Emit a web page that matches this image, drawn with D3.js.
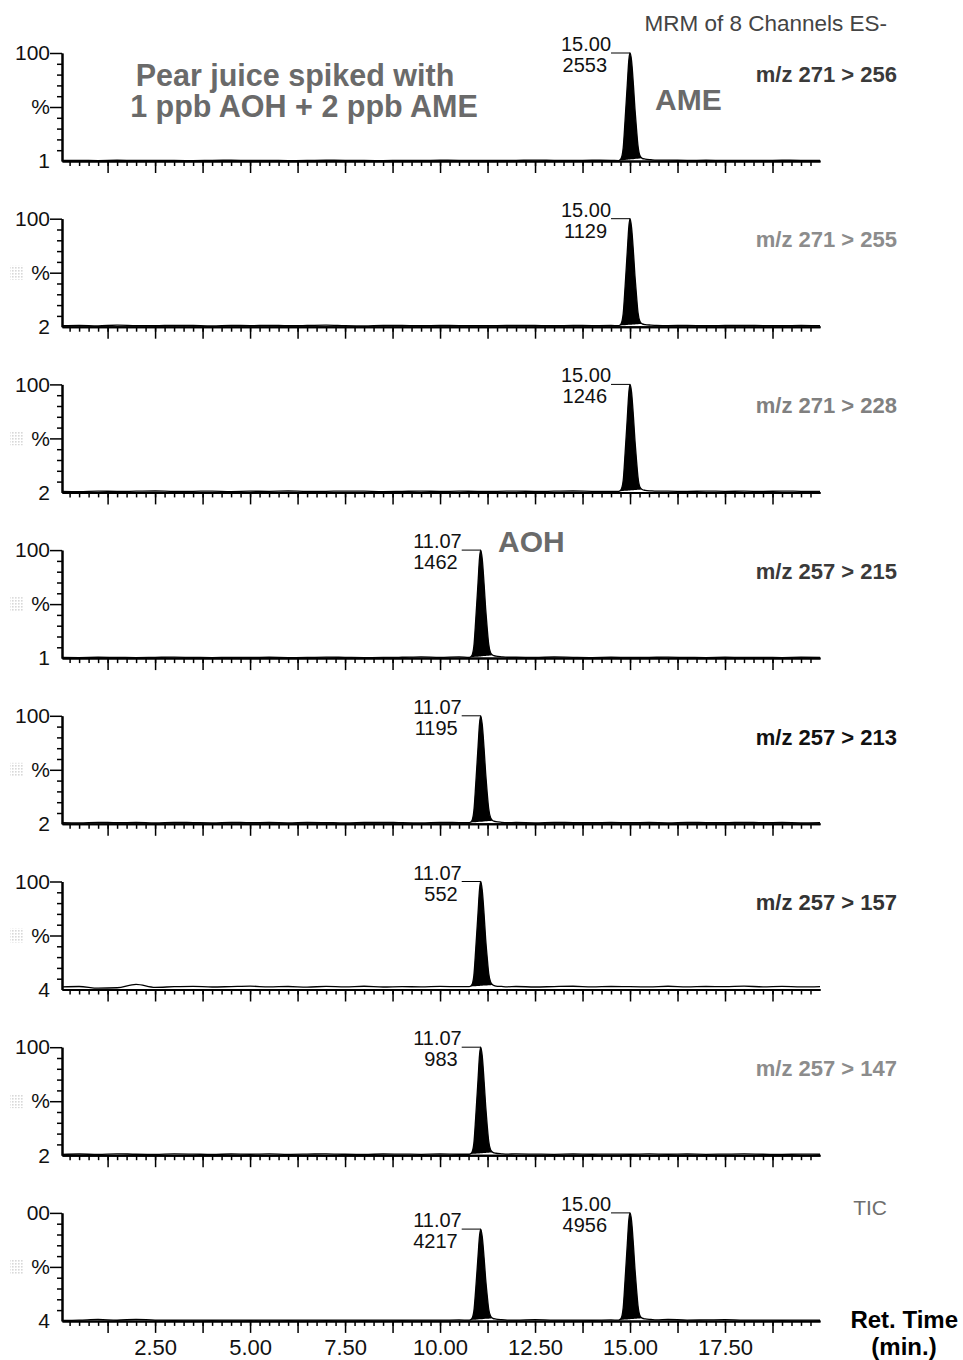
<!DOCTYPE html>
<html>
<head>
<meta charset="utf-8">
<script src="https://cdn.jsdelivr.net/npm/d3@7"></script>
<style>
  body { margin: 0; background: #fff; }
  svg { display: block; font-family: "Liberation Sans", Arial, sans-serif; }
</style>
</head>
<body>
<svg id="chart" width="963" height="1360"></svg>
<script>
// channel names, axis labels and peak annotations
var channelNames = ['m/z 271 > 256', 'm/z 271 > 255', 'm/z 271 > 228', 'm/z 257 > 215',
                    'm/z 257 > 213', 'm/z 257 > 157', 'm/z 257 > 147', 'TIC'];
var topLabels  = ['100', '100', '100', '100', '100', '100', '100', '00'];
var baseLabels = ['1', '2', '2', '1', '2', '4', '2', '4'];
var peakTimes  = [[15.00], [15.00], [15.00], [11.07], [11.07], [11.07], [11.07], [11.07, 15.00]];
var peakCounts = [[2553], [1129], [1246], [1462], [1195], [552], [983], [4217, 4956]];
var peakLimits = [[[14.70, 15.32]], [[14.70, 15.32]], [[14.70, 15.32]], [[10.77, 11.39]],
                  [[10.77, 11.39]], [[10.77, 11.39]], [[10.77, 11.39]], [[10.77, 11.39], [14.70, 15.32]]];
var timeLabels = [2.5, 5, 7.5, 10, 12.5, 15, 17.5];

// baseline noise (% of channel max), sampled every 0.5 min
var noiseTimes = [0.05, 0.5, 1, 1.5, 2, 2.5, 3, 3.5, 4, 4.5, 5, 5.5, 6, 6.5, 7, 7.5, 8, 8.5, 9, 9.5,
                  10, 10.5, 11, 11.5, 12, 12.5, 13, 13.5, 14, 14.5, 15, 15.5, 16, 16.5, 17, 17.5, 18, 18.5, 19, 19.5, 20];
var noise = [
  [0.5,0.6,0.4,0.7,0.5,0.6,0.5,0.4,0.6,0.7,0.5,0.6,0.4,0.5,0.7,0.6,0.5,0.4,0.6,0.5,0.7,0.6,0.5,0.5,0.6,0.8,0.6,0.5,0.7,0.6,0.5,1.1,0.8,0.6,0.7,0.5,0.6,0.5,0.7,0.6,0.5],
  [0.9,1.2,0.8,1.4,1.0,0.9,1.3,1.1,0.8,1.2,1.0,1.3,0.9,1.1,1.4,1.0,0.8,1.2,1.1,0.9,1.2,1.0,1.0,1.0,1.3,1.1,0.9,1.2,1.0,1.1,1.0,1.4,1.0,1.2,0.9,1.1,1.3,1.0,0.9,1.1,1.0],
  [1.0,0.8,1.2,0.9,1.1,1.3,0.9,1.0,1.2,0.8,1.1,1.0,1.3,0.9,1.0,1.2,1.1,0.8,1.0,1.2,0.9,1.1,1.0,1.0,1.2,0.9,1.1,1.3,1.0,0.9,1.0,1.3,1.1,0.9,1.2,1.0,1.1,0.9,1.2,1.0,0.9],
  [0.6,0.5,0.8,0.6,0.5,0.7,0.9,0.6,0.5,0.7,0.6,0.8,0.5,0.6,0.9,0.7,0.5,0.6,0.8,1.2,0.7,1.1,0.6,0.6,0.8,0.6,1.0,0.7,0.5,0.8,0.6,0.7,0.9,0.6,0.5,0.8,0.6,0.7,0.5,0.8,0.6],
  [1.1,0.9,1.4,1.0,1.2,0.8,1.3,1.1,0.9,1.4,1.0,1.2,0.9,1.3,1.1,0.8,1.2,1.4,1.0,0.9,1.3,1.1,1.0,1.0,1.2,0.9,1.4,1.1,1.0,1.3,1.0,1.2,0.9,1.3,1.1,1.0,1.4,1.0,1.2,0.9,1.1],
  [2.4,2.8,1.2,1.6,4.8,2.0,2.6,2.9,2.3,2.7,3.1,2.4,2.8,2.2,2.9,2.5,3.0,2.3,2.7,2.4,2.9,2.6,2.5,2.5,2.8,2.3,2.7,3.0,2.4,2.8,2.6,2.5,3.0,2.4,2.8,2.6,3.1,2.5,2.9,2.4,2.7],
  [0.8,1.1,0.7,1.3,0.9,0.8,1.2,1.0,0.7,1.1,0.9,1.2,0.8,1.0,1.3,0.9,0.7,1.1,1.0,0.8,1.1,0.9,0.9,0.9,1.2,1.0,0.8,1.1,0.9,1.0,0.9,1.2,0.9,1.1,0.8,1.0,1.2,0.9,0.8,1.0,0.9],
  [0.5,0.7,1.4,0.6,1.5,0.7,0.6,0.8,0.6,0.7,0.6,0.8,0.6,0.7,0.6,0.8,0.6,0.7,0.6,0.8,0.7,0.9,0.7,0.7,0.8,1.2,0.7,0.8,0.6,0.9,0.7,1.1,1.3,0.8,0.9,1.2,0.7,0.8,0.6,0.7,0.6]
];

// peak profiles [time, %]
var peaks = [
  [[[14.70,0.4],[14.76,2],[14.82,12],[14.87,38],[14.93,72],[14.97,94],[15.00,100],[15.04,93],[15.09,70],[15.13,48],[15.17,30],[15.21,14],[15.26,5],[15.32,2.5],[15.40,1.8],[15.55,1.2],[15.70,0.8]]],
  [[[14.70,1.0],[14.76,2.5],[14.82,12],[14.87,37],[14.93,71],[14.97,93],[15.00,100],[15.04,92],[15.09,69],[15.13,47],[15.17,29],[15.21,13],[15.26,5],[15.32,2.6],[15.40,1.9],[15.55,1.5],[15.70,1.2]]],
  [[[14.70,1.0],[14.76,2.4],[14.82,11],[14.87,36],[14.93,70],[14.97,93],[15.00,100],[15.04,93],[15.09,70],[15.13,48],[15.17,30],[15.21,14],[15.26,5],[15.32,2.7],[15.40,1.9],[15.55,1.4],[15.70,1.1]]],
  [[[10.77,0.6],[10.83,2],[10.89,11],[10.94,36],[11.00,70],[11.04,93],[11.07,100],[11.11,92],[11.16,68],[11.20,46],[11.24,28],[11.28,13],[11.33,5],[11.39,2.6],[11.47,1.8],[11.62,1.2],[11.77,0.8]]],
  [[[10.77,1.0],[10.83,2.4],[10.89,12],[10.94,37],[11.00,71],[11.04,93],[11.07,100],[11.11,92],[11.16,69],[11.20,47],[11.24,29],[11.28,14],[11.33,5.5],[11.39,2.8],[11.47,2.0],[11.62,1.4],[11.77,1.1]]],
  [[[10.77,2.6],[10.83,4],[10.89,13],[10.94,38],[11.00,71],[11.04,93],[11.07,100],[11.11,92],[11.16,69],[11.20,47],[11.24,30],[11.28,15],[11.33,7],[11.39,4.2],[11.47,3.2],[11.62,2.8],[11.77,2.5]]],
  [[[10.77,0.9],[10.83,2.2],[10.89,11],[10.94,36],[11.00,70],[11.04,93],[11.07,100],[11.11,92],[11.16,68],[11.20,46],[11.24,28],[11.28,13],[11.33,5],[11.39,2.6],[11.47,1.8],[11.62,1.3],[11.77,1.0]]],
  [[[10.77,0.7],[10.83,1.8],[10.89,9],[10.94,30],[11.00,60],[11.04,79],[11.07,85],[11.11,78],[11.16,58],[11.20,39],[11.24,24],[11.28,11],[11.33,4.5],[11.39,2.4],[11.47,1.7],[11.62,1.1],[11.77,0.8]],
   [[14.70,0.7],[14.76,2],[14.82,12],[14.87,38],[14.93,72],[14.97,94],[15.00,100],[15.04,93],[15.09,70],[15.13,48],[15.17,30],[15.21,14],[15.26,5],[15.32,2.5],[15.40,1.8],[15.55,1.3],[15.70,0.9]]]
];

var labelColors = ['#3a3a3a', '#8c8c8c', '#808080', '#3a3a3a', '#111', '#333', '#8c8c8c', '#6e6e6e'];

var svg = d3.select('#chart');
var x = d3.scaleLinear().domain([0.05, 20]).range([62, 820]);
var step = 165.7;

// dotted patch next to the % label
svg.append('defs').append('pattern')
   .attr('id', 'dots').attr('width', 3).attr('height', 3).attr('patternUnits', 'userSpaceOnUse')
   .append('rect').attr('width', 1.6).attr('height', 1.6).attr('fill', '#d8d8d8');

function buildTrace(i) {
   var pts = [];
   noiseTimes.forEach(function(t, j) {
      var inside = peaks[i].some(function(p) { return t >= p[0][0] && t <= p[p.length - 1][0]; });
      if (!inside) pts.push([t, noise[i][j]]);
   });
   peaks[i].forEach(function(p) { pts = pts.concat(p); });
   pts.sort(function(a, b) { return a[0] - b[0]; });
   return pts;
}

channelNames.forEach(function(name, k) {
   var base = 161 + step * k, top = base - 108;
   var y = d3.scaleLinear().domain([0, 100]).range([base, top]);
   var g = svg.append('g');
   var pts = buildTrace(k);

   // filled peaks between integration limits
   peakLimits[k].forEach(function(lim) {
      var sub = pts.filter(function(d) { return d[0] >= lim[0] && d[0] <= lim[1]; });
      var va = sub[0][1], vb = sub[sub.length - 1][1];
      g.append('path')
       .datum(sub)
       .attr('fill', '#000')
       .attr('d', d3.area()
          .x(function(d) { return x(d[0]); })
          .y0(function(d) { return y(va + (vb - va) * (d[0] - lim[0]) / (lim[1] - lim[0])); })
          .y1(function(d) { return y(d[1]); })
          .curve(d3.curveMonotoneX));
   });

   g.append('path')
    .datum(pts)
    .attr('fill', 'none').attr('stroke', '#000').attr('stroke-width', 1.3)
    .attr('d', d3.line().x(function(d) { return x(d[0]); }).y(function(d) { return y(d[1]); }).curve(d3.curveMonotoneX));

   // x axis: minor and major ticks
   var xa = g.append('g').attr('transform', 'translate(0,' + base + ')');
   xa.append('g').call(d3.axisBottom(x).tickValues(d3.range(0.25, 19.8, 0.25)).tickSize(5).tickSizeOuter(0).tickFormat(''));
   xa.append('g').call(d3.axisBottom(x).tickValues(d3.range(1.25, 19, 1.25)).tickSize(12).tickSizeOuter(0).tickPadding(6)
      .tickFormat(function(d) { return (k === 7 && timeLabels.indexOf(d) >= 0) ? d3.format('.2f')(d) : ''; }));
   xa.selectAll('text').attr('font-size', 22).attr('fill', '#111');

   // y axis
   var ya = g.append('g').attr('transform', 'translate(62,0)');
   ya.append('g').call(d3.axisLeft(y).tickValues([10, 20, 30, 40, 60, 70, 80, 90]).tickSize(5).tickSizeOuter(0).tickFormat(''));
   ya.append('g').call(d3.axisLeft(y).tickValues([50, 100]).tickSize(12).tickSizeOuter(0).tickPadding(0)
      .tickFormat(function(d) { return d === 100 ? topLabels[k] : '%'; }));
   ya.selectAll('text').attr('font-size', 21).attr('fill', '#111');

   g.selectAll('.domain').attr('stroke-width', 2);
   g.selectAll('.tick line').attr('stroke-width', 1.5);
   g.selectAll('g[font-family]').attr('font-family', null);

   g.append('text').attr('x', 50).attr('y', base).attr('dy', '0.35em').attr('text-anchor', 'end')
    .attr('font-size', 21).attr('fill', '#111').text(baseLabels[k]);

   if (k > 0) {
      g.append('rect').attr('x', 10).attr('y', y(50) - 7).attr('width', 13).attr('height', 14).attr('fill', 'url(#dots)');
   }

   // channel label
   if (name === 'TIC') {
      g.append('text').attr('x', 887).attr('y', top - 5).attr('dy', '0.35em').attr('text-anchor', 'end')
       .attr('font-size', 21).attr('fill', labelColors[k]).text(name);
   } else {
      g.append('text').attr('x', 897).attr('y', top + 21).attr('dy', '0.35em').attr('text-anchor', 'end')
       .attr('font-size', 22).attr('font-weight', 'bold').attr('fill', labelColors[k]).text(name);
   }

   // peak annotations
   peakTimes[k].forEach(function(rt, j) {
      var apexX = x(rt);
      var apexY = y(d3.max(peaks[k][j], function(d) { return d[1]; }));
      g.append('line').attr('x1', apexX - 19).attr('x2', apexX).attr('y1', apexY).attr('y2', apexY)
       .attr('stroke', '#000').attr('stroke-width', 1);
      g.append('text').attr('x', apexX - 19).attr('y', apexY - 2).attr('text-anchor', 'end')
       .attr('font-size', 20).attr('fill', '#111').text(rt.toFixed(2));
      g.append('text').attr('x', apexX - 23).attr('y', apexY + 19).attr('text-anchor', 'end')
       .attr('font-size', 20).attr('fill', '#111').text(peakCounts[k][j]);
   });
});

// header and annotations
svg.append('text').attr('x', 887).attr('y', 31).attr('text-anchor', 'end')
   .attr('font-size', 22.5).attr('fill', '#444').text('MRM of 8 Channels ES-');
svg.append('text').attr('x', 295).attr('y', 86).attr('text-anchor', 'middle')
   .attr('font-size', 30.5).attr('font-weight', 'bold').attr('fill', '#6a6a6a').text('Pear juice spiked with');
svg.append('text').attr('x', 304).attr('y', 117).attr('text-anchor', 'middle')
   .attr('font-size', 30.5).attr('font-weight', 'bold').attr('fill', '#6a6a6a').text('1 ppb AOH + 2 ppb AME');
svg.append('text').attr('x', 655).attr('y', 110)
   .attr('font-size', 30).attr('font-weight', 'bold').attr('fill', '#6a6a6a').text('AME');
svg.append('text').attr('x', 498).attr('y', 552)
   .attr('font-size', 30).attr('font-weight', 'bold').attr('fill', '#6a6a6a').text('AOH');
svg.append('text').attr('x', 958).attr('y', 1328).attr('text-anchor', 'end')
   .attr('font-size', 24).attr('font-weight', 'bold').attr('fill', '#000').text('Ret. Time');
svg.append('text').attr('x', 904).attr('y', 1355).attr('text-anchor', 'middle')
   .attr('font-size', 24).attr('font-weight', 'bold').attr('fill', '#000').text('(min.)');
</script>
</body>
</html>
